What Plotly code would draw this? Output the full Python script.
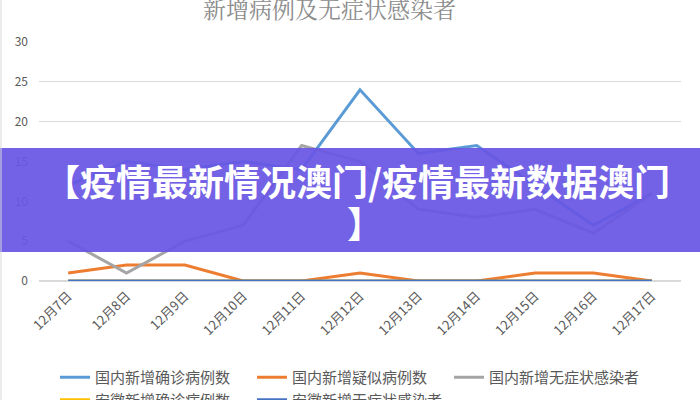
import plotly.graph_objects as go

categories = ["12月7日", "12月8日", "12月9日", "12月10日", "12月11日", "12月12日",
              "12月13日", "12月14日", "12月15日", "12月16日", "12月17日"]
confirmed_cn = [12, 15, 14, 15, 14, 24, 16, 17, 12, 7, 11]
suspected_cn = [1, 2, 2, 0, 0, 1, 0, 0, 1, 1, 0]
asymp_cn = [5, 1, 5, 7, 17, 15, 9, 8, 9, 6, 11]
confirmed_ah = [0, 0, 0, 0, 0, 0, 0, 0, 0, 0, 0]
asymp_ah = [0, 0, 0, 0, 0, 0, 0, 0, 0, 0, 0]

series_names = ["国内新增确诊病例数", "国内新增疑似病例数", "国内新增无症状感染者",
                "安徽新增确诊病例数", "安徽新增无症状感染者"]
series_values = [confirmed_cn, suspected_cn, asymp_cn, confirmed_ah, asymp_ah]
colors = ["#5B9BD5", "#ED7D31", "#A5A5A5", "#FFC000", "#4472C4"]

title_text = "新增病例及无症状感染者"
banner_line1 = "【疫情最新情况澳门/疫情最新数据澳门"
banner_line2 = "】"

fig = go.Figure()
for name, vals, col in zip(series_names, series_values, colors):
    fig.add_trace(go.Scatter(
        x=categories, y=vals, name=name, mode="lines",
        line=dict(color=col, width=3),
    ))

W, H = 700, 400
ml, mr, mt, mb = 39, 19, 42, 119
pw = W - ml - mr
ph = H - mt - mb

def px_x(x):
    return (x - ml) / pw

def px_y(y):
    return (H - mb - y) / ph

fig.update_layout(
    width=W, height=H,
    margin=dict(l=ml, r=mr, t=mt, b=mb),
    paper_bgcolor="white", plot_bgcolor="white",
    font=dict(family="Noto Sans CJK SC, Noto Sans, sans-serif", color="#595959", size=12),
    showlegend=True,
    legend=dict(
        orientation="h", xref="container", yref="container",
        x=55 / W, y=1 - 361 / H, xanchor="left", yanchor="top",
        font=dict(size=15, color="#595959"),
        entrywidth=152, entrywidthmode="pixels",
        itemwidth=30, tracegroupgap=0,
        bgcolor="rgba(0,0,0,0)",
    ),
    xaxis=dict(
        range=[-0.5, 10.5], showgrid=False, zeroline=False, showline=False,
        tickangle=-45, tickfont=dict(size=13, color="#595959"), ticks="",
        ticklabelstandoff=4,
    ),
    yaxis=dict(
        range=[0, 30], dtick=5, showgrid=True, gridcolor="#D9D9D9", gridwidth=1,
        zeroline=True, zerolinecolor="#D9D9D9", showline=False, ticks="",
        tickfont=dict(size=12, color="#595959"), ticklabelstandoff=10,
    ),
    shapes=[
        dict(type="rect", xref="paper", yref="paper",
             x0=px_x(0), x1=px_x(W), y0=px_y(252), y1=px_y(148),
             fillcolor="rgba(104,86,228,0.93)", line=dict(width=0), layer="above"),
        dict(type="line", xref="paper", yref="paper",
             x0=px_x(1), x1=px_x(1), y0=px_y(0), y1=px_y(H),
             line=dict(color="#D9D9D9", width=1), layer="above"),
    ],
    annotations=[
        dict(text=title_text, xref="paper", yref="paper",
             x=px_x(329), y=px_y(9), showarrow=False,
             xanchor="center", yanchor="middle",
             font=dict(size=23, color="#8C8C8C", family="Noto Serif CJK SC, Noto Sans CJK SC")),
        dict(text="<b>" + banner_line1 + "</b>", xref="paper", yref="paper",
             x=px_x(357), y=px_y(180), showarrow=False,
             xanchor="center", yanchor="middle",
             font=dict(size=36, color="white", family="Noto Sans CJK SC")),
        dict(text="<b>" + banner_line2 + "</b>", xref="paper", yref="paper",
             x=px_x(365), y=px_y(222), showarrow=False,
             xanchor="center", yanchor="middle",
             font=dict(size=36, color="white", family="Noto Sans CJK SC")),
    ],
)

fig.write_html("out.html", config={"displayModeBar": False},
               post_script="document.body.style.margin='0';document.body.style.padding='0';")
